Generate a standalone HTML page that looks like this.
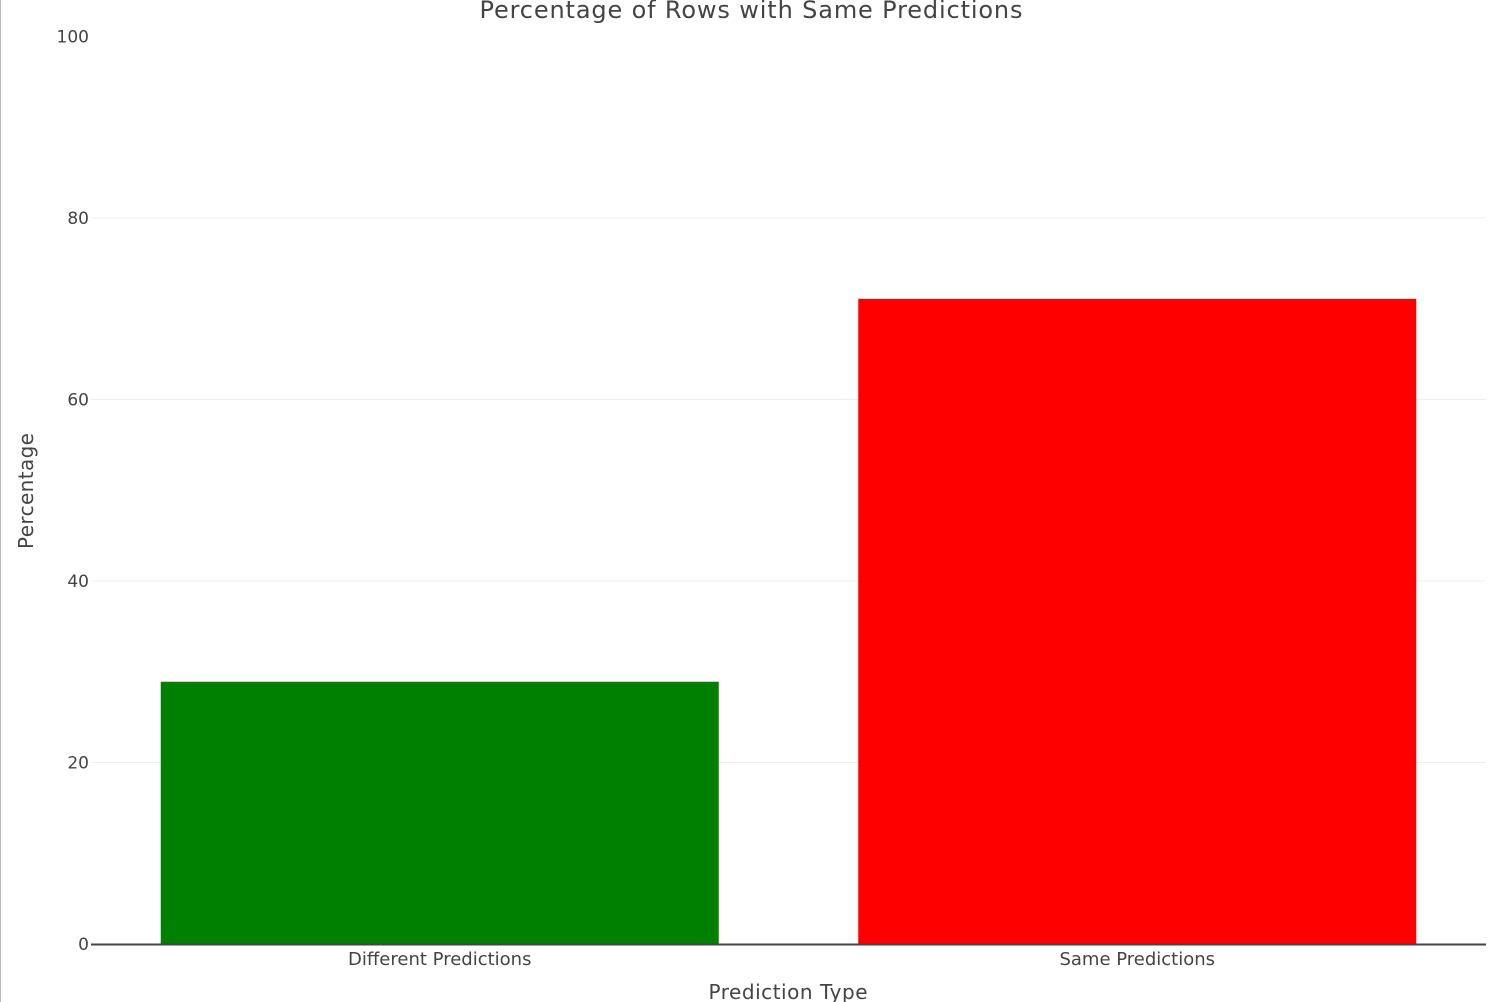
<!DOCTYPE html>
<html><head><meta charset="utf-8"><style>
html,body{margin:0;padding:0;background:#fff;}
svg{display:block;font-family:"DejaVu Sans","Liberation Sans",sans-serif;}
</style></head><body>
<svg id="chart" width="1497" height="1002">
<rect x="0" y="0" width="1" height="1002" fill="#bbb"/>
<g id="grid"></g>
<g id="bars"></g>
<g id="yticks"></g>
<g id="xticks"></g>
<line x1="91" x2="1486" y1="944.5" y2="944.5" stroke="#444" stroke-width="2"/>
<text x="751" y="18" text-anchor="middle" font-size="24" fill="#444" textLength="543">Percentage of Rows with Same Predictions</text>
<text x="788" y="999" text-anchor="middle" font-size="20" fill="#444" textLength="159">Prediction Type</text>
<text transform="translate(33,491) rotate(-90)" text-anchor="middle" font-size="20" fill="#444" textLength="116">Percentage</text>
</svg>
<script>
const categories = ["Different Predictions", "Same Predictions"];
const values = [28.9, 71.1];
const colors = ["#008000", "#ff0000"];
const yTicks = [0, 20, 40, 60, 80, 100];
const ns = "http://www.w3.org/2000/svg";
const x0 = 91, x1 = 1486, yBase = 944, yTop = 36.5, yMax = 100;
const y = v => yBase - (v / yMax) * (yBase - yTop);
const band = (x1 - x0) / categories.length;
const xc = i => x0 + band * (i + 0.5);
function mk(tag, attrs, parent) {
  const e = document.createElementNS(ns, tag);
  for (const k in attrs) e.setAttribute(k, attrs[k]);
  document.getElementById(parent).appendChild(e);
  return e;
}
yTicks.forEach(t => {
  if (t > 0 && t < 100) {
    const l = mk("line", {x1: x0, x2: x1, y1: y(t), y2: y(t), stroke: "#eee", "stroke-width": 1}, "grid");
    
    
  }
  const tx = mk("text", {x: 89, y: y(t) + 6, "text-anchor": "end", "font-size": 17, fill: "#444"}, "yticks");
  tx.textContent = t;
  
  
});
categories.forEach((c, i) => {
  const w = band * 0.8;
  const r = mk("rect", {x: xc(i) - w / 2, y: y(values[i]), width: w, height: yBase - y(values[i]), fill: colors[i]}, "bars");
  
  
  const tx = mk("text", {x: xc(i), y: 965, "text-anchor": "middle", "font-size": 18, fill: "#444"}, "xticks");
  tx.textContent = c;
  
  
});
</script>
</body></html>
